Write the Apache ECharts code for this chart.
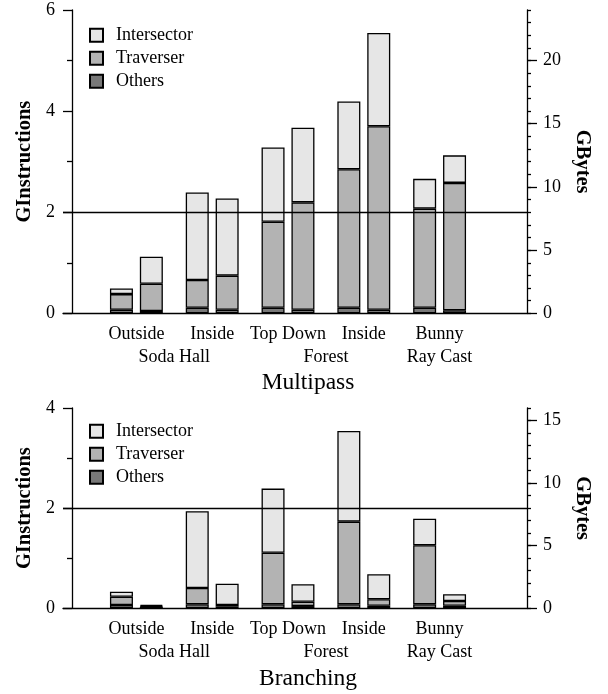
<!DOCTYPE html>
<html><head><meta charset="utf-8">
<script src="https://cdn.jsdelivr.net/npm/echarts@6/dist/echarts.min.js"></script>
<style>html,body{margin:0;padding:0;background:#fff}#c{width:608px;height:694px}</style>
</head><body><div id="c"></div>
<script>
// ---- data ----
const categories = ['Outside', 'Inside', 'Top Down', 'Inside', 'Bunny'];
const sceneLabels = ['', '', 'Soda Hall', '', '', '', 'Forest', '', '', 'Ray Cast', ''];
const seriesNames = ['Intersector', 'Traverser', 'Others'];
const panelTitles = ['Multipass', 'Branching'];
const referenceLine = 2;

// Multipass (GInstructions), first and second bar of each pair
const mpOthersA      = [0.07, 0.11, 0.11, 0.11, 0.11];
const mpTraverserA   = [0.31, 0.55, 1.70, 2.74, 1.96];
const mpIntersectorA = [0.11, 1.73, 1.47, 1.34, 0.59];
const mpOthersB      = [0.045, 0.07, 0.07, 0.07, 0.06];
const mpTraverserB   = [0.54, 0.675, 2.125, 3.63, 2.52];
const mpIntersectorB = [0.535, 1.525, 1.475, 1.845, 0.545];

// Branching (GInstructions)
const brOthersA      = [0.066, 0.08, 0.08, 0.08, 0.08];
const brTraverserA   = [0.164, 0.325, 1.03, 1.65, 1.18];
const brIntersectorA = [0.10, 1.535, 1.28, 1.81, 0.53];
const brOthersB      = [0.03, 0.04, 0.045, 0.05, 0.05];
const brTraverserB   = [0.015, 0.026, 0.085, 0.13, 0.096];
const brIntersectorB = [0.021, 0.424, 0.35, 0.50, 0.134];

const gInstrMax = [6, 4];
const gBytesMax = [24, 16];
const gBytesLabels = [[0, 5, 10, 15, 20], [0, 5, 10, 15]];

// ---- style ----
const FONT = 'Liberation Serif';
const colors = { Intersector: '#e6e6e6', Traverser: '#b3b3b3', Others: '#787878' };

const panels = [
  { top: 10, height: 303.3, legendTop: 21.25, titleTop: 366,
    data: [[mpOthersA, mpTraverserA, mpIntersectorA], [mpOthersB, mpTraverserB, mpIntersectorB]] },
  { top: 408, height: 200.3, legendTop: 417.25, titleTop: 662,
    data: [[brOthersA, brTraverserA, brIntersectorA], [brOthersB, brTraverserB, brIntersectorB]] }
];

const grid = [], xAxis = [], yAxis = [], series = [], legend = [], title = [];

panels.forEach((p, i) => {
  const gBars = grid.length;
  grid.push({ left: 98.5, right: 130.5, top: p.top, height: p.height, containLabel: false, outerBoundsMode: 'none' });
  const gFrame = grid.length;
  grid.push({ left: 63, right: 81, top: p.top, height: p.height, containLabel: false, outerBoundsMode: 'none' });

  const xCat = xAxis.length;
  xAxis.push({
    type: 'category', gridIndex: gBars, data: categories,
    axisLine: { show: false }, axisTick: { show: false },
    axisLabel: { interval: 0, margin: 12, color: '#000', fontFamily: FONT, fontSize: 18 }
  });
  xAxis.push({
    type: 'category', gridIndex: gBars, data: sceneLabels, boundaryGap: false, position: 'bottom', offset: 23,
    axisLine: { show: false }, axisTick: { show: false },
    axisLabel: { interval: 0, margin: 12, color: '#000', fontFamily: FONT, fontSize: 18 }
  });
  const xFrame = xAxis.length;
  xAxis.push({
    type: 'value', gridIndex: gFrame, min: 0, max: 1,
    axisLine: { show: true, lineStyle: { color: '#000', width: 1.3 } },
    axisTick: { show: false }, axisLabel: { show: false }, splitLine: { show: false }
  });

  const yLeft = yAxis.length;
  yAxis.push({
    type: 'value', gridIndex: gBars, position: 'left', offset: 26.5,
    min: 0, max: gInstrMax[i], interval: 2,
    name: 'GInstructions', nameLocation: 'middle', nameRotate: 90, nameGap: 36,
    nameTextStyle: { fontFamily: FONT, fontSize: 20.5, fontWeight: 'bold', color: '#000' },
    axisLine: { show: true, lineStyle: { color: '#000', width: 1.3 } },
    axisTick: { show: true, length: 9, lineStyle: { color: '#000', width: 1.3 } },
    minorTick: { show: true, splitNumber: 2, length: 5, lineStyle: { color: '#000', width: 1.3 } },
    axisLabel: { margin: 17, color: '#000', fontFamily: FONT, fontSize: 18 },
    splitLine: { show: false }, minorSplitLine: { show: false }
  });
  yAxis.push({
    type: 'value', gridIndex: gBars, position: 'right', offset: 49.5,
    min: 0, max: gBytesMax[i], interval: 1,
    name: 'GBytes', nameLocation: 'middle', nameRotate: -90, nameGap: 45,
    nameTextStyle: { fontFamily: FONT, fontSize: 20.5, fontWeight: 'bold', color: '#000' },
    axisLine: { show: true, lineStyle: { color: '#000', width: 1.3 } },
    axisTick: { show: true, length: 4, lineStyle: { color: '#000', width: 1.3 } },
    axisLabel: { show: false }, splitLine: { show: false }
  });
  yAxis.push({
    type: 'value', gridIndex: gBars, position: 'right', offset: 49.5,
    min: 0, max: gBytesMax[i], interval: 1,
    axisLine: { show: false },
    axisTick: { show: true, length: 10, customValues: gBytesLabels[i], lineStyle: { color: '#000', width: 1.3 } },
    axisLabel: { margin: 16, customValues: gBytesLabels[i], color: '#000', fontFamily: FONT, fontSize: 18 },
    splitLine: { show: false }
  });
  const yFrame = yAxis.length;
  yAxis.push({
    type: 'value', gridIndex: gFrame, min: 0, max: gInstrMax[i], show: false,
    splitLine: { show: false }
  });

  p.data.forEach((stackData, s) => {
    ['Others', 'Traverser', 'Intersector'].forEach((nm, k) => {
      series.push({
        type: 'bar', name: nm, stack: 'p' + i + 's' + s,
        xAxisIndex: xCat, yAxisIndex: yLeft,
        data: stackData[k], barWidth: 23, barGap: '30%',
        itemStyle: { color: colors[nm], borderColor: '#000', borderWidth: 1.3 },
        emphasis: { disabled: true }, z: 2
      });
    });
  });

  series.push({
    type: 'line', xAxisIndex: xFrame, yAxisIndex: yFrame, data: [], z: 5, silent: true,
    markLine: {
      symbol: 'none', silent: true, label: { show: false },
      lineStyle: { color: '#000', width: 1.3, type: 'solid' },
      emphasis: { disabled: true },
      data: [{ yAxis: referenceLine }]
    }
  });

  legend.push({
    data: seriesNames, orient: 'vertical', left: 84, top: p.legendTop,
    itemWidth: 13, itemHeight: 13, itemGap: 5, icon: 'rect',
    selectedMode: false,
    textStyle: { fontFamily: FONT, fontSize: 18, color: '#000', lineHeight: 13, padding: [0, 0, 0, 8] }
  });

  title.push({
    text: panelTitles[i], left: 303, textAlign: 'center', top: p.titleTop,
    textStyle: { fontFamily: FONT, fontSize: 23.5, fontWeight: 'normal', color: '#000' }
  });
});

const chart = echarts.init(document.getElementById('c'), null, { renderer: 'canvas' });
chart.setOption({
  animation: false,
  backgroundColor: '#fff',
  grid, xAxis, yAxis, series, legend, title
});
</script>
</body></html>
